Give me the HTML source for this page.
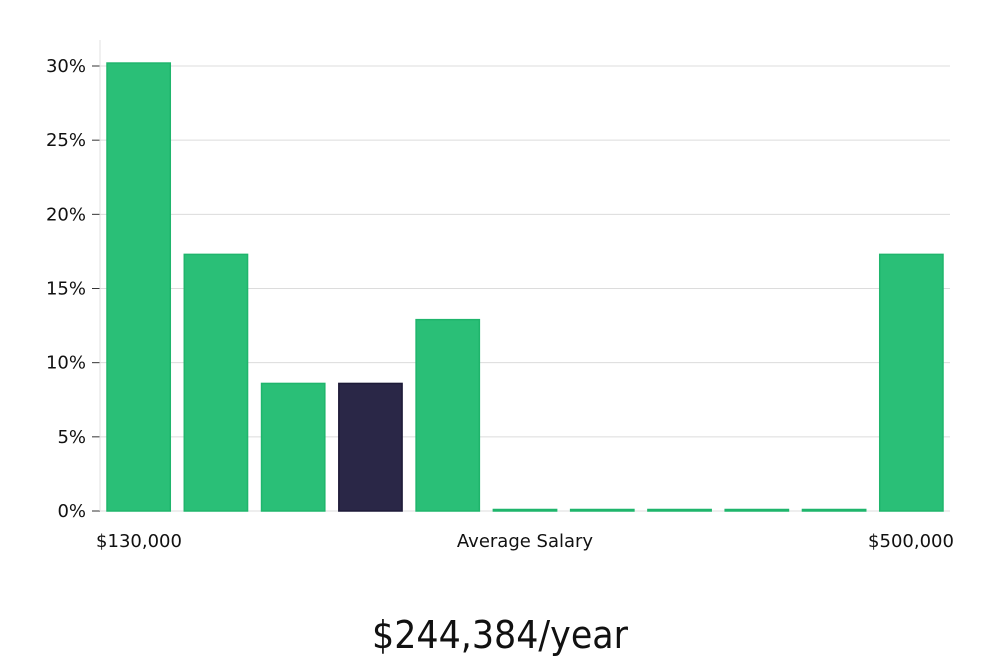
<!DOCTYPE html>
<html><head><meta charset="utf-8"><style>
body{margin:0;background:#fff;width:1000px;height:660px;overflow:hidden}
svg text{font-family:"DejaVu Sans","Liberation Sans",sans-serif;fill:#111}
</style></head><body>
<svg id="chart" width="1000" height="660" xmlns="http://www.w3.org/2000/svg"></svg>
<script>
const categories=["b1","b2","b3","b4","b5","b6","b7","b8","b9","b10","b11"];
const values=[30.2,17.3,8.6,8.6,12.9,0,0,0,0,0,17.3];
const highlightIndex=[3];
const yTicks=[0,5,10,15,20,25,30];
const xLabels=["$130,000","Average Salary","$500,000"];
const svg=document.getElementById('chart');
const NS="http://www.w3.org/2000/svg";
const x0=100,x1=950,y0=511,yTop=66;
function y(v){return y0-(v/30)*(y0-yTop);}
const bw=(x1-x0)/categories.length;
function mk(t,a){const e=document.createElementNS(NS,t);for(const k in a)e.setAttribute(k,a[k]);svg.appendChild(e);return e;}
yTicks.forEach(t=>{
  const g=mk('line',{x1:x0,x2:x1,y1:y(t),y2:y(t),stroke:'#dcdcdc','stroke-width':1});
  
  
  const tk=mk('line',{x1:x0-8,x2:x0,y1:y(t),y2:y(t),stroke:'#333','stroke-width':1});
  
  
  const l=mk('text',{x:86,y:y(t)+6,'text-anchor':'end','font-size':18});
  l.textContent=t+'%';
  
  
});
const ax=mk('line',{x1:x0,x2:x0,y1:40,y2:y0,stroke:'#e0e0e0','stroke-width':1});


values.forEach((v,i)=>{
  const hl=highlightIndex.includes(i);
  const bx=x0+i*bw+7, h=Math.max(y0-y(v),1.5);
  const r=mk('rect',{x:bx,y:y0-h,width:bw-14,height:h,fill:hl?'#2a2747':'#2abf77',stroke:hl?'#1d1a38':'#1fb56c','stroke-width':1.5});
  
  
});
const xl=[[139,'middle'],[525,'middle'],[911,'middle']];
xLabels.forEach((s,i)=>{
  const t=mk('text',{x:xl[i][0],y:547,'text-anchor':xl[i][1],'font-size':18});
  t.textContent=s;
  
  
});
const title=mk('text',{x:500,y:648,'text-anchor':'middle','font-size':38,'font-family':'Liberation Sans Narrow, Liberation Sans, sans-serif',textLength:256,lengthAdjust:'spacingAndGlyphs'});
title.textContent='$244,384/year';


</script>
</body></html>
